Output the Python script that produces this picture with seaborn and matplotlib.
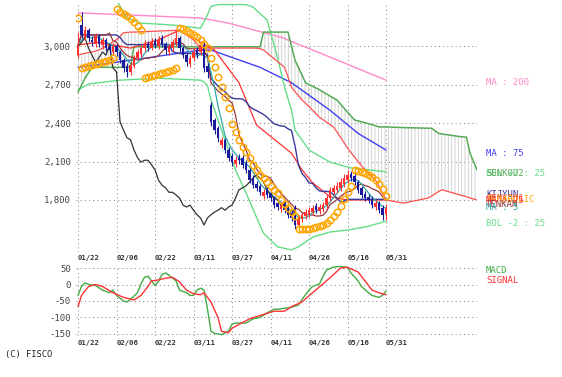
import numpy as np
import pandas as pd
import matplotlib
matplotlib.use('Agg')
import matplotlib.pyplot as plt
import seaborn as sns

# 日付ラベル (営業日インデックス)
dates = ['01/22', '02/06', '02/22', '03/11', '03/27', '04/11', '04/26', '05/16', '05/31']
date_pos = [0, 11, 22, 33, 44, 55, 66, 77, 88]

# 日足 OHLC
open_ = [2930, 3165, 3065, 3125, 3050, 3015, 3080, 3010, 3050, 2995,
         2955, 3000, 2955, 2890, 2845, 2800, 2845, 2910, 2940, 2985,
         3015, 2985, 3040, 3000, 3065, 3015, 2955, 2985, 3015, 3065,
         2985, 2930, 2860, 2910, 2970, 2955, 3010, 2845, 2540, 2425,
         2360, 2230, 2270, 2190, 2145, 2080, 2130, 2130, 2090, 2035,
         1970, 1925, 1910, 1830, 1880, 1855, 1815, 1775, 1730, 1770,
         1730, 1700, 1740, 1605, 1650, 1675, 1690, 1705, 1755, 1715,
         1730, 1760, 1815, 1860, 1880, 1895, 1925, 1955, 2005, 1985,
         1940, 1895, 1845, 1825, 1810, 1745, 1775, 1740, 1690]
close = [3010, 3085, 3125, 3065, 3030, 3080, 3015, 3050, 2985, 2970,
         3000, 2955, 2890, 2830, 2800, 2855, 2910, 2955, 2985, 3015,
         2985, 3030, 3010, 3050, 3015, 2970, 2995, 3030, 3065, 2985,
         2930, 2875, 2910, 2955, 2930, 3010, 2830, 2800, 2410, 2345,
         2285, 2270, 2190, 2130, 2095, 2110, 2110, 2075, 2035, 1955,
         1915, 1895, 1860, 1860, 1840, 1815, 1760, 1745, 1760, 1720,
         1685, 1660, 1605, 1660, 1685, 1705, 1720, 1740, 1720, 1745,
         1760, 1815, 1880, 1895, 1910, 1940, 1970, 1995, 1970, 1940,
         1880, 1840, 1815, 1800, 1760, 1775, 1720, 1685, 1740]
high = [3110, 3265, 3155, 3140, 3080, 3105, 3095, 3070, 3065, 3015,
        3025, 3015, 2970, 2910, 2870, 2875, 2930, 2980, 3010, 3050,
        3040, 3065, 3065, 3080, 3085, 3030, 3015, 3055, 3125, 3080,
        3000, 2955, 2930, 2985, 2995, 3030, 3050, 2870, 2565, 2440,
        2375, 2290, 2285, 2215, 2165, 2145, 2160, 2150, 2110, 2050,
        1995, 1950, 1925, 1885, 1900, 1880, 1830, 1800, 1785, 1790,
        1755, 1720, 1760, 1685, 1705, 1730, 1745, 1760, 1775, 1770,
        1785, 1840, 1900, 1915, 1940, 1970, 2005, 2035, 2025, 2010,
        1955, 1910, 1870, 1845, 1830, 1800, 1790, 1760, 1770]
low = [2910, 3065, 3050, 3030, 3000, 2995, 2995, 2980, 2960, 2940,
       2930, 2925, 2870, 2800, 2760, 2775, 2830, 2890, 2915, 2960,
       2960, 2970, 2985, 2980, 2995, 2940, 2930, 2960, 3000, 2955,
       2910, 2845, 2835, 2885, 2910, 2930, 2800, 2750, 2375, 2315,
       2250, 2205, 2165, 2105, 2065, 2055, 2080, 2050, 2010, 1935,
       1895, 1870, 1840, 1810, 1815, 1790, 1740, 1720, 1705, 1700,
       1660, 1635, 1575, 1580, 1630, 1650, 1665, 1685, 1700, 1690,
       1705, 1740, 1790, 1840, 1855, 1870, 1900, 1935, 1950, 1915,
       1855, 1815, 1790, 1775, 1740, 1720, 1700, 1645, 1645]

# パラボリック
sar = [3220,
       2830, 2835, 2845, 2855, 2860, 2870, 2875, 2885, 2890, 2910,
       3290, 3265, 3250, 3235, 3210, 3190, 3155, 3125,
       2750, 2760, 2765, 2775, 2785, 2790, 2800, 2805, 2815, 2830,
       3140, 3135, 3120, 3105, 3085, 3070, 3050, 3015, 2985,
       2910, 2835, 2760, 2680, 2605, 2520, 2395, 2330, 2270, 2215,
       2175, 2130, 2075, 2035, 1995, 1970, 1940, 1910, 1880, 1855,
       1800, 1770, 1740, 1705, 1675,
       1575, 1575, 1575, 1575, 1580, 1590, 1595, 1605, 1620, 1645,
       1675, 1705, 1755, 1810, 1860, 1910,
       2035, 2025, 2020, 2010, 1995, 1980, 1955, 1925, 1885, 1830]

# 移動平均 (画面から読み取り)
ma200_x = [0, 35, 43, 58, 72, 88]
ma200_y = [3260, 3220, 3180, 3070, 2915, 2735]
ma75_x = [0, 11, 20, 35, 38, 52, 61, 72, 80, 88]
ma75_y = [2835, 2875, 2910, 2970, 2970, 2835, 2715, 2500, 2320, 2190]
ma25_x = [0, 6, 15, 23, 29, 39, 46, 51, 61, 64, 67, 72, 77, 88]
ma25_y = [3010, 3030, 2985, 3050, 3125, 2970, 2715, 2385, 2165, 2035, 1935, 1825, 1800, 1800]

# ボリンジャーバンド
bol_up_x = [0, 9, 11, 14, 18, 27, 35, 36, 37, 38, 40, 48, 50, 54, 57, 59, 61, 62, 66, 72, 78, 88]
bol_up_y = [3400, 3400, 3360, 3220, 3180, 3165, 3140, 3190, 3245, 3310, 3325, 3325, 3305, 3205,
            2915, 2680, 2500, 2345, 2190, 2095, 2050, 2020]
bol_dn_x = [0, 3, 12, 23, 35, 36, 37, 38, 40, 42, 45, 48, 51, 53, 57, 61, 63, 67, 72, 77, 83, 88]
bol_dn_y = [2660, 2705, 2735, 2750, 2735, 2720, 2690, 2580, 2425, 2270, 2035, 1855, 1665, 1540,
            1435, 1410, 1435, 1510, 1550, 1565, 1595, 1635]

# 一目均衡表 先行スパン
cloud_x = [0, 2, 4, 6, 11, 13, 15, 16, 29, 33, 35, 51, 52, 53, 59, 60, 61, 62, 64, 65, 69, 73,
           74, 77, 79, 81, 85, 86, 88, 93, 100, 101, 103, 104, 109, 111, 112, 114]
senkou1 = [2930, 2945, 2955, 2970, 3050, 3105, 3110, 3110, 3125, 3050, 2985, 2985, 2980, 2970,
           2835, 2760, 2680, 2645, 2580, 2555, 2445, 2370, 2330, 2205, 2135, 2065, 1955, 1905,
           1800, 1775, 1815, 1830, 1865, 1880, 1840, 1825, 1815, 1800]
senkou2 = [2640, 2750, 2835, 2835, 2835, 2835, 2835, 2995, 2995, 2995, 2995, 2995, 2995, 3110,
           3110, 3110, 3000, 2890, 2775, 2715, 2660, 2595, 2580, 2485, 2425, 2410, 2380, 2370,
           2370, 2365, 2360, 2360, 2320, 2315, 2295, 2290, 2165, 2035]

# MACD
macd_x = [0, 1, 2, 3, 5, 7, 9, 10, 11, 13, 14, 15, 17, 18, 19, 20, 21, 22, 23, 24, 25, 26, 28,
          29, 31, 32, 33, 34, 35, 36, 37, 38, 39, 40, 41, 43, 44, 45, 46, 48, 50, 52, 54, 56,
          57, 59, 61, 63, 64, 66, 67, 69, 70, 71, 73, 75, 77, 78, 80, 81, 83, 84, 86, 87, 88]
macd_y = [-33, -6, 5, 0, -3, -17, -25, -17, -33, -50, -53, -45, -25, 2, 22, 25, 11, -3, 10, 30,
          35, 28, 11, -17, -25, -33, -33, -17, -11, -17, -75, -142, -148, -150, -152, -142,
          -120, -117, -117, -117, -104, -100, -86, -75, -75, -72, -69, -62, -45, -17, -6, 2,
          25, 44, 53, 55, 52, 35, 11, -6, -25, -33, -39, -33, -20]
signal_x = [0, 1, 3, 5, 7, 10, 13, 16, 18, 20, 21, 23, 25, 27, 29, 31, 33, 35, 36, 38, 40, 41,
            43, 44, 46, 49, 52, 56, 59, 61, 64, 67, 70, 73, 75, 77, 80, 82, 84, 86, 88]
signal_y = [-67, -33, -6, 0, -6, -25, -39, -47, -33, -6, 11, 14, 19, 22, 8, -17, -28, -31, -25,
            -53, -100, -142, -146, -133, -121, -104, -94, -81, -81, -67, -53, -25, 2, 30, 50,
            52, 38, 11, -17, -25, -31]

df = pd.DataFrame({'open': open_, 'high': high, 'low': low, 'close': close})
df['day'] = np.arange(len(df))
df['ma5'] = df.close.rolling(5, min_periods=1).mean()
df['tenkan'] = (df.high.rolling(9, min_periods=1).max() + df.low.rolling(9, min_periods=1).min()) / 2
df['kijun'] = (df.high.rolling(26, min_periods=1).max() + df.low.rolling(26, min_periods=1).min()) / 2

sns.set_style('white')
plt.rcParams['font.family'] = ['DejaVu Sans Mono']
plt.rcParams['hatch.color'] = '#cccccc'
plt.rcParams['hatch.linewidth'] = 0.6

W, H = 562, 377
fig = plt.figure(figsize=(W / 100, H / 100), dpi=100)
ax = fig.add_axes([76.25 / W, 1 - 252 / H, 400.75 / W, 249 / H])
ax2 = fig.add_axes([76.25 / W, 1 - 336.3 / H, 400.75 / W, 70.6 / H])

grid_kw = dict(color='#8a8a8a', linestyle=(0, (1, 3)), linewidth=0.75)

# 雲
ax.fill_between(cloud_x, senkou1, senkou2, facecolor='none', edgecolor='#cccccc',
                hatch='|||||', linewidth=0, zorder=1)

line_kw = dict(ax=ax, legend=False, errorbar=None, estimator=None)
sns.lineplot(x=ma200_x, y=ma200_y, color='#ff88c8', linewidth=1.0, **line_kw)
sns.lineplot(x=ma75_x, y=ma75_y, color='#4040f0', linewidth=1.0, **line_kw)
sns.lineplot(x=bol_up_x, y=bol_up_y, color='#66dd88', linewidth=1.0, **line_kw)
sns.lineplot(x=bol_dn_x, y=bol_dn_y, color='#66dd88', linewidth=1.0, **line_kw)
sns.lineplot(x=cloud_x, y=senkou2, color='#55aa55', linewidth=1.1, **line_kw)
sns.lineplot(x=cloud_x, y=senkou1, color='#ff5050', linewidth=0.9, **line_kw)
sns.lineplot(x=ma25_x, y=ma25_y, color='#ff3030', linewidth=0.9, **line_kw)
sns.lineplot(x=df.day, y=df.kijun, color='#3a3a9a', linewidth=1.0, **line_kw)
sns.lineplot(x=df.day, y=df.tenkan, color='#9a3a3a', linewidth=0.9, **line_kw)
sns.lineplot(x=df.day, y=df.ma5, color='#30a8a8', linewidth=0.9, **line_kw)
# 遅行スパン
sns.lineplot(x=df.day[:-26].values, y=df.close[26:].values, color='#333333', linewidth=0.9, **line_kw)

# ローソク足
up = df.close >= df.open
cols = np.where(up, '#ff3030', '#1a1a9c')
ax.vlines(df.day, df.low, df.high, colors=cols, linewidth=0.8, zorder=3)
body_lo = np.minimum(df.open, df.close)
body_h = np.maximum(np.abs(df.close - df.open), 6)
ax.bar(df.day, body_h, bottom=body_lo, width=0.72, color=cols, linewidth=0, zorder=3)

# パラボリック
ax.plot(df.day, sar, linestyle='none', marker='o', markersize=4.6, markerfacecolor='none',
        markeredgecolor='#ffa500', markeredgewidth=1.1, zorder=4)

ax.set_xlim(-0.5, 114)
ax.set_ylim(1394, 3337)
ax.set_yticks([1800, 2100, 2400, 2700, 3000])
ax.set_yticklabels(['1,800', '2,100', '2,400', '2,700', '3,000'])
ax.set_xticks(date_pos)
ax.set_xticklabels(dates, ha='left', fontsize=5.2, fontweight='bold', color='#333333')
ax.grid(True, **grid_kw)
ax.axvline(114, **grid_kw)
ax.tick_params(axis='y', length=0, pad=4, labelsize=6.5, labelcolor='#444444')
ax.tick_params(axis='x', length=0, pad=2)
ax.set_xlabel('')
ax.set_ylabel('')
for s in ax.spines.values():
    s.set_visible(False)

# 右側ラベル (元の図と同じく重なって表示される)
labels = [('MA : 200', 2720, '#ff88c8'), ('MA : 75', 2165, '#4040f0'),
          ('BOL +2 : 25', 2003, '#66dd88'), ('SENKOU2', 2003, '#55aa55'),
          ('KIJYUN', 1845, '#3a3a9a'), ('SENKOU1', 1808, '#ff5050'),
          ('PARABOLIC', 1800, '#ffa500'), ('MA : 25', 1795, '#ff3030'),
          ('TENKAN', 1768, '#9a3a3a'), ('MA : 5', 1740, '#30a8a8'),
          ('BOL -2 : 25', 1620, '#66dd88')]
for txt, yv, c in labels:
    ax.text(116.6, yv, txt, color=c, fontsize=6.5, va='center', ha='left', clip_on=False)

# MACD
sns.lineplot(x=macd_x, y=macd_y, ax=ax2, color='#44aa44', linewidth=1.0, legend=False,
             errorbar=None, estimator=None)
sns.lineplot(x=signal_x, y=signal_y, ax=ax2, color='#ff3333', linewidth=1.0, legend=False,
             errorbar=None, estimator=None)
ax2.set_xlim(-0.5, 114)
ax2.set_ylim(-157, 57)
ax2.set_yticks([50, 0, -50, -100, -150])
ax2.set_yticklabels(['50', '0', '-50', '-100', '-150'])
ax2.set_xticks(date_pos)
ax2.set_xticklabels(dates, ha='left', fontsize=5.2, fontweight='bold', color='#333333')
ax2.grid(True, **grid_kw)
ax2.tick_params(axis='y', length=0, pad=4, labelsize=6.5, labelcolor='#444444')
ax2.tick_params(axis='x', length=0, pad=3)
ax2.set_xlabel('')
ax2.set_ylabel('')
for s in ax2.spines.values():
    s.set_visible(False)
ax2.text(116.6, 41, 'MACD', color='#44aa44', fontsize=6.5, va='center', clip_on=False)
ax2.text(116.6, 11, 'SIGNAL', color='#ff3333', fontsize=6.5, va='center', clip_on=False)

fig.text(5 / W, 1 - 354 / H, '(C) FISCO', fontsize=6.3, va='center', color='#222222')

fig.savefig('out.png', dpi=100, facecolor='white')
